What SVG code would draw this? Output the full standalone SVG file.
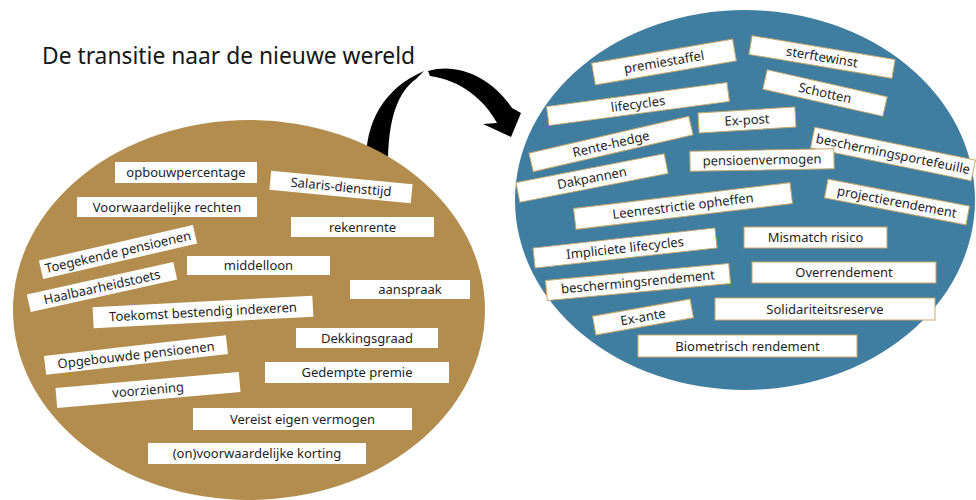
<svg xmlns="http://www.w3.org/2000/svg" width="976" height="500" viewBox="0 0 976 500">
  <style>
    .title { font-family: "Noto Sans", "Open Sans", sans-serif; font-size: 22.8px; fill: #161616; }
    .lbl { font-family: "Noto Sans", "Open Sans", sans-serif; font-size: 13px; fill: #1e1e1e; text-anchor: middle; }
    .old rect { fill: #ffffff; }
    .new rect { fill: #ffffff; stroke: #c9a86a; stroke-width: 1; }
  </style>

  <rect width="976" height="500" fill="#ffffff"/>

  <text class="title" x="42" y="64">De transitie naar de nieuwe wereld</text>

  <!-- curved transition arrow -->
  <g id="connectors" fill="#000000">
    <path d="M366,165 C365,122 384,88 424,71 L416,79 C398,92 388,118 388,165 Z"/>
    <path d="M428,71 C458,62 492,78 512,108 L521,113 L511,137 L483,124 L497,123 C484,99 460,80 430,76 Z"/>
  </g>

  <!-- the two worlds -->
  <ellipse id="old-world" cx="249" cy="310" rx="236" ry="190" fill="#b38d4d"/>
  <ellipse id="new-world" cx="745" cy="200" rx="230" ry="190" fill="#407ea1"/>

  <!-- old world terms -->
  <g class="old">
    <g id="opbouwpercentage" transform="translate(186,172.5)"><rect x="-71" y="-10.5" width="142" height="21"/><text class="lbl" y="4.5">opbouwpercentage</text></g>
    <g id="voorwaardelijke-rechten" transform="translate(167,207)"><rect x="-90" y="-10" width="180" height="20"/><text class="lbl" y="4.5">Voorwaardelijke rechten</text></g>
    <g id="toegekende-pensioenen" transform="translate(118,252) rotate(-13)"><rect x="-79" y="-9.5" width="158" height="19"/><text class="lbl" y="4.5">Toegekende pensioenen</text></g>
    <g id="salaris-diensttijd" transform="translate(341,187) rotate(5.5)"><rect x="-71" y="-9.5" width="142" height="19"/><text class="lbl" y="4.5">Salaris-diensttijd</text></g>
    <g id="rekenrente" transform="translate(362.5,227)"><rect x="-71.5" y="-10" width="143" height="20"/><text class="lbl" y="4.5">rekenrente</text></g>
    <g id="middelloon" transform="translate(258.5,265.5)"><rect x="-71.5" y="-9.5" width="143" height="19"/><text class="lbl" y="4.5">middelloon</text></g>
    <g id="haalbaarheidstoets" transform="translate(102,287) rotate(-12.5)"><rect x="-75" y="-9" width="150" height="18"/><text class="lbl" y="4.5">Haalbaarheidstoets</text></g>
    <g id="aanspraak" transform="translate(410,289.5)"><rect x="-60" y="-9.5" width="120" height="19"/><text class="lbl" y="4.5">aanspraak</text></g>
    <g id="toekomst-bestendig-indexeren" transform="translate(203,312) rotate(-3)"><rect x="-110" y="-10.5" width="220" height="21"/><text class="lbl" y="4.5">Toekomst bestendig indexeren</text></g>
    <g id="opgebouwde-pensioenen" transform="translate(136,355) rotate(-6.5)"><rect x="-91.5" y="-9.5" width="183" height="19"/><text class="lbl" y="4.5">Opgebouwde pensioenen</text></g>
    <g id="dekkingsgraad" transform="translate(367,338)"><rect x="-71" y="-10" width="142" height="20"/><text class="lbl" y="4.5">Dekkingsgraad</text></g>
    <g id="voorziening" transform="translate(148,390) rotate(-5)"><rect x="-92" y="-10" width="184" height="20"/><text class="lbl" y="4.5">voorziening</text></g>
    <g id="gedempte-premie" transform="translate(357,372.5)"><rect x="-92" y="-10.5" width="184" height="21"/><text class="lbl" y="4.5">Gedempte premie</text></g>
    <g id="vereist-eigen-vermogen" transform="translate(302.5,419)"><rect x="-109.5" y="-11" width="219" height="22"/><text class="lbl" y="4.5">Vereist eigen vermogen</text></g>
    <g id="onvoorwaardelijke-korting" transform="translate(257,453.5)"><rect x="-109" y="-10.5" width="218" height="21"/><text class="lbl" y="4.5">(on)voorwaardelijke korting</text></g>
  </g>

  <!-- new world terms -->
  <g class="new">
    <g id="premiestaffel" transform="translate(664,62) rotate(-9.7)"><rect x="-71.5" y="-11" width="143" height="22"/><text class="lbl" y="4.5">premiestaffel</text></g>
    <g id="sterftewinst" transform="translate(822,57) rotate(9.5)"><rect x="-72.5" y="-9.5" width="145" height="19"/><text class="lbl" y="4.5">sterftewinst</text></g>
    <g id="lifecycles" transform="translate(638,104) rotate(-7.6)"><rect x="-91" y="-9.5" width="182" height="19"/><text class="lbl" y="4.5">lifecycles</text></g>
    <g id="schotten" transform="translate(825,93) rotate(12.7)"><rect x="-61.5" y="-10" width="123" height="20"/><text class="lbl" y="4.5">Schotten</text></g>
    <g id="ex-post" transform="translate(747,120) rotate(-3.5)"><rect x="-48.5" y="-10" width="97" height="20"/><text class="lbl" y="4.5">Ex-post</text></g>
    <g id="rente-hedge" transform="translate(611,144) rotate(-13)"><rect x="-82" y="-9.5" width="164" height="19"/><text class="lbl" y="4.5">Rente-hedge</text></g>
    <g id="beschermingsportefeuille" transform="translate(893,154) rotate(11.6)"><rect x="-82" y="-10.5" width="164" height="21"/><text class="lbl" y="4.5">beschermingsportefeuille</text></g>
    <g id="pensioenvermogen" transform="translate(762,160) rotate(-1)"><rect x="-72" y="-10" width="144" height="20"/><text class="lbl" y="4.5">pensioenvermogen</text></g>
    <g id="dakpannen" transform="translate(592,178) rotate(-11)"><rect x="-75.5" y="-10" width="151" height="20"/><text class="lbl" y="4.5">Dakpannen</text></g>
    <g id="projectierendement" transform="translate(897,202) rotate(10.8)"><rect x="-72" y="-9.5" width="144" height="19"/><text class="lbl" y="4.5">projectierendement</text></g>
    <g id="leenrestrictie-opheffen" transform="translate(683,206) rotate(-6.8)"><rect x="-109" y="-10.5" width="218" height="21"/><text class="lbl" y="4.5">Leenrestrictie opheffen</text></g>
    <g id="impliciete-lifecycles" transform="translate(625,248) rotate(-6.3)"><rect x="-91.5" y="-10" width="183" height="20"/><text class="lbl" y="4.5">Impliciete lifecycles</text></g>
    <g id="mismatch-risico" transform="translate(815.5,237.5)"><rect x="-71.5" y="-10.5" width="143" height="21"/><text class="lbl" y="4.5">Mismatch risico</text></g>
    <g id="beschermingsrendement" transform="translate(638,282) rotate(-5.3)"><rect x="-92" y="-10" width="184" height="20"/><text class="lbl" y="4.5">beschermingsrendement</text></g>
    <g id="overrendement" transform="translate(844,272.5)"><rect x="-92" y="-10.5" width="184" height="21"/><text class="lbl" y="4.5">Overrendement</text></g>
    <g id="ex-ante" transform="translate(643,317) rotate(-10)"><rect x="-49.5" y="-9.5" width="99" height="19"/><text class="lbl" y="4.5">Ex-ante</text></g>
    <g id="solidariteitsreserve" transform="translate(825,309)"><rect x="-110" y="-11" width="220" height="22"/><text class="lbl" y="4.5">Solidariteitsreserve</text></g>
    <g id="biometrisch-rendement" transform="translate(747.5,346)"><rect x="-109.5" y="-11" width="219" height="22"/><text class="lbl" y="4.5">Biometrisch rendement</text></g>
  </g>
</svg>
